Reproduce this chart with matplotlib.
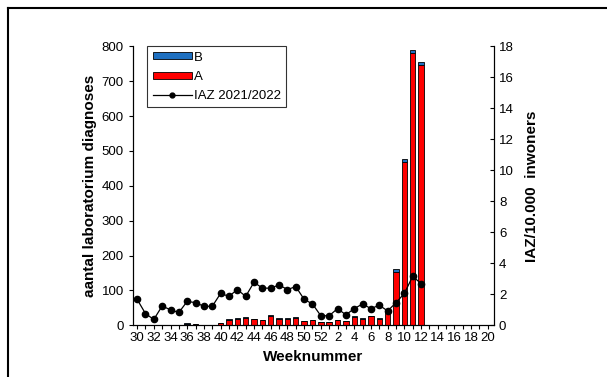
import matplotlib.pyplot as plt
import numpy as np
from matplotlib.lines import Line2D
from matplotlib.patches import Patch

plt.rcParams['font.family'] = ['Liberation Sans', 'DejaVu Sans']

# weeks 30..52 of 2021, then 1..20 of 2022
weeks = list(range(30, 53)) + list(range(1, 21))

# laboratory diagnoses per week (weeks 30..12), influenza A and B
diag_a = [0, 2, 2, 0, 2, 2, 5, 3, 0, 2, 6, 16, 19, 22, 17, 15, 27, 19, 19, 21,
          12, 15, 9, 9, 15, 12, 24, 19, 26, 19, 37, 153, 468, 780, 747]
diag_b = [0, 0, 0, 0, 0, 0, 1, 0, 0, 0, 1, 1, 1, 1, 1, 1, 3, 1, 1, 2,
          1, 1, 1, 1, 1, 1, 2, 1, 2, 1, 1, 10, 8, 11, 9]

# IAZ per 10.000 inhabitants (weeks 30..12)
iaz = [1.68, 0.76, 0.38, 1.25, 1.0, 0.83, 1.55, 1.46, 1.23, 1.23, 2.06, 1.87,
       2.31, 1.87, 2.78, 2.4, 2.4, 2.61, 2.31, 2.5, 1.68, 1.38, 0.62, 0.62,
       1.08, 0.68, 1.08, 1.38, 1.08, 1.3, 0.93, 1.46, 2.06, 3.16, 2.7]

n = len(weeks)
x = np.arange(len(diag_a))

fig = plt.figure(figsize=(6.07, 3.77), dpi=100)
ax = fig.add_axes([0.219, 0.137, 0.595, 0.74])

ax.bar(x, diag_a, width=0.65, color='#ff0000', edgecolor='black', linewidth=0.6)
ax.bar(x, diag_b, width=0.65, bottom=diag_a, color='#1f70c1',
       edgecolor='black', linewidth=0.6)

ax.set_xlim(-0.5, n - 0.25)
ax.set_ylim(0, 800)
ax.set_yticks(range(0, 801, 100))
ax.set_xticks(range(n))
ax.set_xticklabels([str(w) if i % 2 == 0 else '' for i, w in enumerate(weeks)])
ax.tick_params(axis='both', labelsize=9.5, direction='out', length=3, width=0.8)
ax.tick_params(axis='x', pad=2)
ax.spines['top'].set_visible(False)
for s in ['left', 'bottom', 'right']:
    ax.spines[s].set_linewidth(0.8)
ax.set_xlabel('Weeknummer', fontsize=11, fontweight='bold', labelpad=4)
ax.set_ylabel('aantal laboratorium diagnoses', fontsize=11, fontweight='bold',
              labelpad=3)

ax2 = ax.twinx()
ax2.plot(x, iaz, color='black', linewidth=0.9, marker='o', markersize=4.5)
ax2.set_ylim(0, 18)
ax2.set_yticks(range(0, 19, 2))
ax2.tick_params(axis='y', labelsize=9.5, direction='in', length=3, width=0.8)
ax2.spines['top'].set_visible(False)
ax2.spines['right'].set_linewidth(0.8)
ax2.set_ylabel('IAZ/10.000  inwoners', fontsize=11, fontweight='bold',
               labelpad=8)

handles = [Patch(facecolor='#1f70c1', edgecolor='black', linewidth=0.6),
           Patch(facecolor='#ff0000', edgecolor='black', linewidth=0.6),
           Line2D([], [], color='black', linewidth=0.9, marker='o', markersize=3.5)]
leg = ax2.legend(handles, ['B', 'A', 'IAZ 2021/2022'], loc='upper left',
                 bbox_to_anchor=(0.04, 1.0), fontsize=9.5, frameon=True,
                 fancybox=False, edgecolor='black', handlelength=3.0,
                 handleheight=0.45, handletextpad=0.1, borderpad=0.4,
                 labelspacing=0.55, borderaxespad=0)
leg.get_frame().set_linewidth(0.8)

# outer frame (only left and top edges visible)
fig.add_artist(Line2D([8 / 607, 8 / 607], [-0.1, 1 - 8 / 377], color='black',
                      linewidth=1.5, transform=fig.transFigure))
fig.add_artist(Line2D([8 / 607, 1.1], [1 - 8 / 377, 1 - 8 / 377], color='black',
                      linewidth=1.5, transform=fig.transFigure))

fig.savefig('out.png', dpi=100)
